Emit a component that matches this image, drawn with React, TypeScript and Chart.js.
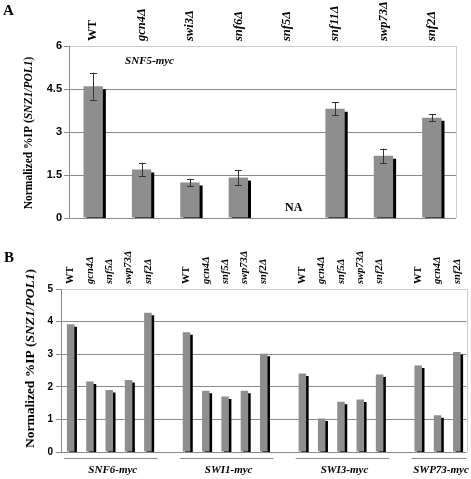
import React, { useEffect, useRef } from 'react';
import { Chart, registerables } from 'chart.js';

Chart.register(...registerables);

// ---------- Panel A data ----------
const strainsA = ['WT', 'gcn4Δ', 'swi3Δ', 'snf6Δ', 'snf5Δ', 'snf11Δ', 'swp73Δ', 'snf2Δ'];
const valuesA: (number | null)[] = [4.6, 1.69, 1.24, 1.41, null, 3.81, 2.17, 3.5];
const errorsA: (number | null)[] = [0.47, 0.24, 0.13, 0.26, null, 0.22, 0.25, 0.13];
const ticksA = [0, 1.5, 3, 4.5, 6];

// ---------- Panel B data ----------
const groupsB = ['SNF6-myc', 'SWI1-myc', 'SWI3-myc', 'SWP73-myc'];
const strainsSNF6 = ['WT', 'gcn4Δ', 'snf5Δ', 'swp73Δ', 'snf2Δ'];
const valuesSNF6 = [3.92, 2.16, 1.9, 2.21, 4.27];
const strainsSWI1 = ['WT', 'gcn4Δ', 'snf5Δ', 'swp73Δ', 'snf2Δ'];
const valuesSWI1 = [3.67, 1.88, 1.7, 1.88, 3.01];
const strainsSWI3 = ['WT', 'gcn4Δ', 'snf5Δ', 'swp73Δ', 'snf2Δ'];
const valuesSWI3 = [2.41, 1.03, 1.54, 1.61, 2.38];
const strainsSWP73 = ['WT', 'gcn4Δ', 'snf2Δ'];
const valuesSWP73 = [2.65, 1.13, 3.07];
const ticksB = [0, 1, 2, 3, 4, 5];

const groupStrains = [strainsSNF6, strainsSWI1, strainsSWI3, strainsSWP73];
const groupValues = [valuesSNF6, valuesSWI1, valuesSWI3, valuesSWP73];

// build slot table (gap slot between groups)
const labelsB: string[] = [];
const dataB: (number | null)[] = [];
const groupRanges: { start: number; end: number }[] = [];
groupStrains.forEach((strs, g) => {
  const start = labelsB.length;
  strs.forEach((s, i) => {
    labelsB.push(s);
    dataB.push(groupValues[g][i]);
  });
  groupRanges.push({ start, end: labelsB.length - 1 });
  if (g < groupStrains.length - 1) {
    labelsB.push('');
    dataB.push(null);
  }
});

const SERIF = '"Liberation Serif", "Times New Roman", serif';
const SANS = '"Liberation Sans", Arial, sans-serif';
const BAR_GREY = '#8e8e8e';
const GRID = '#8a8a8a';
const GRID_LIGHT = '#cdcdcd';

type Part = { text: string; italic?: boolean };
const yTitleParts: Part[] = [
  { text: 'Normalized %IP (' },
  { text: 'SNZ1/POL1', italic: true },
  { text: ')' },
];

function drawRotatedParts(ctx: CanvasRenderingContext2D, parts: Part[], cx: number, cy: number, size: number) {
  ctx.save();
  ctx.translate(cx, cy);
  ctx.rotate(-Math.PI / 2);
  ctx.textBaseline = 'middle';
  ctx.textAlign = 'left';
  ctx.fillStyle = '#000';
  const fonts = parts.map((p) => `${p.italic ? 'italic ' : ''}bold ${size}px ${SERIF}`);
  let total = 0;
  parts.forEach((p, i) => {
    ctx.font = fonts[i];
    total += ctx.measureText(p.text).width;
  });
  let x = -total / 2;
  parts.forEach((p, i) => {
    ctx.font = fonts[i];
    ctx.fillText(p.text, x, 0);
    x += ctx.measureText(p.text).width;
  });
  ctx.restore();
}

function shadowPlugin(offX: number, offY: number) {
  return {
    id: 'barShadow',
    beforeDatasetsDraw(chart: any) {
      const ctx = chart.ctx;
      ctx.save();
      ctx.shadowColor = '#000';
      ctx.shadowBlur = 0;
      ctx.shadowOffsetX = offX;
      ctx.shadowOffsetY = offY;
    },
    afterDatasetsDraw(chart: any) {
      chart.ctx.restore();
    },
  };
}

const borderPlugin = {
  id: 'rightBorder',
  beforeDatasetsDraw(chart: any) {
    const { ctx, chartArea } = chart;
    ctx.save();
    ctx.strokeStyle = GRID_LIGHT;
    ctx.lineWidth = 1;
    ctx.beginPath();
    ctx.moveTo(Math.round(chartArea.right) + 0.5, chartArea.top);
    ctx.lineTo(Math.round(chartArea.right) + 0.5, chartArea.bottom);
    ctx.stroke();
    ctx.restore();
  },
};

const tickFont = (size: number) => (c: any) => {
  const lbl = c.tick ? c.tick.label : '';
  return { family: SERIF, weight: 'bold', style: lbl === 'WT' ? 'normal' : 'italic', size };
};

const A_LABEL_SIZE = 12.5;
const B_LABEL_SIZE = 10.5;

function PanelA() {
  const ref = useRef<HTMLCanvasElement>(null);
  useEffect(() => {
    const extras = {
      id: 'extrasA',
      afterDatasetsDraw(chart: any) {
        const { ctx } = chart;
        const yS = chart.scales.y;
        const meta = chart.getDatasetMeta(0);
        ctx.save();
        ctx.strokeStyle = '#333';
        ctx.lineWidth = 1;
        valuesA.forEach((v, i) => {
          const e = errorsA[i];
          if (v == null || e == null) return;
          const x = Math.round(meta.data[i].x) + 0.5;
          const yt = yS.getPixelForValue(v + e);
          const yb = yS.getPixelForValue(v - e);
          ctx.beginPath();
          ctx.moveTo(x, yt);
          ctx.lineTo(x, yb);
          ctx.moveTo(x - 3.5, Math.round(yt) + 0.5);
          ctx.lineTo(x + 3.5, Math.round(yt) + 0.5);
          ctx.moveTo(x - 3.5, Math.round(yb) + 0.5);
          ctx.lineTo(x + 3.5, Math.round(yb) + 0.5);
          ctx.stroke();
        });
        ctx.restore();
      },
      afterDraw(chart: any) {
        const { ctx, chartArea } = chart;
        const xS = chart.scales.x;
        const yS = chart.scales.y;
        ctx.save();
        ctx.fillStyle = '#000';
        ctx.textBaseline = 'middle';
        ctx.font = `bold 15px ${SERIF}`;
        ctx.textAlign = 'left';
        ctx.fillText('A', 3, 11);
        ctx.font = `italic bold 11px ${SERIF}`;
        ctx.textAlign = 'center';
        ctx.fillText('SNF5-myc', xS.getPixelForValue(1) + 8, yS.getPixelForValue(5.47));
        const naIndex = valuesA.findIndex((v) => v == null);
        ctx.font = `bold 12px ${SERIF}`;
        ctx.fillText('NA', xS.getPixelForValue(naIndex) + 7, chartArea.bottom - 10);
        ctx.restore();
        drawRotatedParts(ctx, yTitleParts, 29, (chartArea.top + chartArea.bottom) / 2 + 1, 11.5);
      },
    };
    const chart = new Chart(ref.current!, {
      type: 'bar',
      data: {
        labels: strainsA,
        datasets: [
          {
            data: valuesA as any,
            backgroundColor: BAR_GREY,
            borderWidth: 0,
            barPercentage: 0.4,
            categoryPercentage: 1,
          },
        ],
      },
      options: {
        animation: false,
        responsive: false,
        devicePixelRatio: 1,
        layout: { padding: { left: 0, right: 15, top: 0, bottom: 12 } },
        plugins: { legend: { display: false }, tooltip: { enabled: false }, title: { display: false } },
        scales: {
          x: {
            position: 'top',
            grid: { display: false, drawTicks: false },
            border: { display: false },
            ticks: {
              minRotation: 90,
              maxRotation: 90,
              autoSkip: false,
              padding: 5,
              labelOffset: A_LABEL_SIZE * 1.2,
              color: '#000',
              font: tickFont(A_LABEL_SIZE) as any,
            },
            afterFit: (s: any) => {
              s.height = 46;
            },
          },
          y: {
            min: 0,
            max: 6,
            afterBuildTicks: (s: any) => {
              s.ticks = ticksA.map((v) => ({ value: v }));
            },
            grid: {
              color: (c: any) => (c.tick && c.tick.value === 6 ? GRID_LIGHT : GRID),
              tickColor: GRID,
              tickLength: 5,
            },
            border: { color: GRID },
            ticks: {
              padding: 2,
              color: '#000',
              font: { family: SANS, weight: 'bold', size: 11 },
              callback: (v: any) => String(v),
            },
            afterFit: (s: any) => {
              s.width = 69;
            },
          },
        },
      },
      plugins: [borderPlugin, shadowPlugin(3, 3), extras],
    });
    return () => chart.destroy();
  }, []);
  return (
    <canvas
      ref={ref}
      width={471}
      height={230}
      style={{ position: 'absolute', left: 0, top: 0, width: 471, height: 230 }}
    />
  );
}

function PanelB() {
  const ref = useRef<HTMLCanvasElement>(null);
  useEffect(() => {
    const extras = {
      id: 'extrasB',
      afterDraw(chart: any) {
        const { ctx, chartArea } = chart;
        const xS = chart.scales.x;
        const slotW = (chartArea.right - chartArea.left) / labelsB.length;
        ctx.save();
        ctx.fillStyle = '#000';
        ctx.textBaseline = 'middle';
        ctx.font = `bold 15px ${SERIF}`;
        ctx.textAlign = 'left';
        ctx.fillText('B', 4, 28);
        const lineY = Math.round(chartArea.bottom + 6) + 0.5;
        groupRanges.forEach((r, g) => {
          const x0 = xS.getPixelForValue(r.start) - slotW / 2 + 3;
          const x1 = Math.min(xS.getPixelForValue(r.end) + slotW / 2, chart.width);
          ctx.strokeStyle = GRID;
          ctx.lineWidth = 1;
          ctx.beginPath();
          ctx.moveTo(x0, lineY);
          ctx.lineTo(x1, lineY);
          ctx.stroke();
          ctx.font = `italic bold 11px ${SERIF}`;
          ctx.textAlign = 'center';
          ctx.fillText(groupsB[g], (x0 + x1) / 2 + 2, lineY + 12);
        });
        ctx.restore();
        drawRotatedParts(ctx, yTitleParts, 31, (chartArea.top + chartArea.bottom) / 2 - 12, 13.5);
      },
    };
    const chart = new Chart(ref.current!, {
      type: 'bar',
      data: {
        labels: labelsB,
        datasets: [
          {
            data: dataB as any,
            backgroundColor: BAR_GREY,
            borderWidth: 0,
            barPercentage: 0.39,
            categoryPercentage: 1,
          },
        ],
      },
      options: {
        animation: false,
        responsive: false,
        devicePixelRatio: 1,
        layout: { padding: { left: 0, right: 4.5, top: 0, bottom: 27 } },
        plugins: { legend: { display: false }, tooltip: { enabled: false }, title: { display: false } },
        scales: {
          x: {
            position: 'top',
            grid: { display: false, drawTicks: false },
            border: { display: false },
            ticks: {
              minRotation: 90,
              maxRotation: 90,
              autoSkip: false,
              padding: 5,
              labelOffset: B_LABEL_SIZE * 1.2,
              color: '#000',
              font: tickFont(B_LABEL_SIZE) as any,
            },
            afterFit: (s: any) => {
              s.height = 59;
            },
          },
          y: {
            min: 0,
            max: 5,
            afterBuildTicks: (s: any) => {
              s.ticks = ticksB.map((v) => ({ value: v }));
            },
            grid: {
              color: (c: any) => (c.tick && c.tick.value === 5 ? GRID_LIGHT : GRID),
              tickColor: GRID,
              tickLength: 5,
            },
            border: { color: GRID },
            ticks: {
              padding: 3,
              color: '#000',
              font: { family: SANS, weight: 'bold', size: 10 },
            },
            afterFit: (s: any) => {
              s.width = 61;
            },
          },
        },
      },
      plugins: [borderPlugin, shadowPlugin(2.5, 2.5), extras],
    });
    return () => chart.destroy();
  }, []);
  return (
    <canvas
      ref={ref}
      width={471}
      height={249}
      style={{ position: 'absolute', left: 0, top: 230, width: 471, height: 249 }}
    />
  );
}

export default function App() {
  useEffect(() => {
    document.body.style.margin = '0';
  }, []);
  return (
    <div style={{ position: 'relative', width: 471, height: 479, background: '#fff', overflow: 'hidden' }}>
      <PanelA />
      <PanelB />
    </div>
  );
}
